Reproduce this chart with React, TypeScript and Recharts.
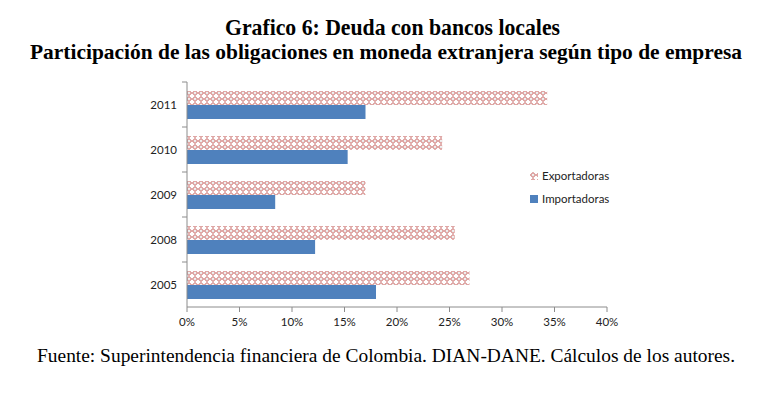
import { BarChart, Bar, XAxis, YAxis } from 'recharts'

const years = ['2011', '2010', '2009', '2008', '2005']
const exportadoras = [0.343, 0.243, 0.17, 0.255, 0.269]
const importadoras = [0.17, 0.153, 0.084, 0.122, 0.18]
const xTicks = [0, 0.05, 0.1, 0.15, 0.2, 0.25, 0.3, 0.35, 0.4]

const data = years.map((y, i) => ({ year: y, exp: exportadoras[i], imp: importadoras[i] }))

const axisColor = '#8c8c8c'
const tickFont = 'Lato, "Open Sans", sans-serif'

function YearTick(props: any) {
  const { x, y, payload } = props
  const half = 22.5
  return (
    <g>
      <line x1={x + 5} x2={x + 10} y1={y - half} y2={y - half} stroke={axisColor} />
      <text x={x} y={y} dy={4} textAnchor="end" fontSize={11.5} fill="#222" fontFamily={tickFont}>
        {payload.value}
      </text>
    </g>
  )
}

export default function App() {
  return (
    <div style={{ position: 'absolute', left: 0, top: 0, width: 770, height: 397, background: '#fff' }}>
      <svg width={770} height={397} style={{ position: 'absolute', left: 0, top: 0 }}>
        <g fontFamily='"Liberation Serif", "Times New Roman", serif' fill="#000">
          <text x={225} y={35} fontSize={23} fontWeight="bold" textLength={335} lengthAdjust="spacingAndGlyphs">
            Grafico 6: Deuda con bancos locales
          </text>
          <text x={30} y={59} fontSize={22} fontWeight="bold" textLength={712} lengthAdjust="spacingAndGlyphs">
            Participación de las obligaciones en moneda extranjera según tipo de empresa
          </text>
          <text x={37} y={362} fontSize={18.5} textLength={698} lengthAdjust="spacingAndGlyphs">
            Fuente: Superintendencia financiera de Colombia. DIAN-DANE. Cálculos de los autores.
          </text>
        </g>
      </svg>
      <div style={{ position: 'absolute', left: 0, top: 0 }}>
        <BarChart
          width={770}
          height={397}
          data={data}
          layout="vertical"
          margin={{ top: 82, right: 163, bottom: 60, left: 127 }}
          barCategoryGap="20%"
          barGap={0}
        >
          <defs>
            <pattern id="expPat" width={6} height={6} patternUnits="userSpaceOnUse">
              <rect width={6} height={6} fill="#fff" />
              <path d="M3 0.5 L5.5 3 L3 5.5 L0.5 3 Z" fill="none" stroke="#c0504d" strokeWidth={1} />
              <circle cx={3} cy={3} r={0.6} fill="#b0b0b0" />
            </pattern>
          </defs>
          <XAxis
            type="number"
            domain={[0, 0.4]}
            ticks={xTicks}
            height={30}
            stroke={axisColor}
            tickSize={5}
            tickMargin={6}
            tickFormatter={(v: number) => `${Math.round(v * 100)}%`}
            tick={{ fontSize: 11.5, fill: '#222', fontFamily: tickFont }}
          />
          <YAxis
            type="category"
            dataKey="year"
            width={60}
            stroke={axisColor}
            tickLine={false}
            tickSize={5}
            tickMargin={5}
            tick={<YearTick />}
          />
          <Bar dataKey="exp" name="Exportadoras" fill="url(#expPat)" isAnimationActive={false} />
          <Bar dataKey="imp" name="Importadoras" fill="#4f81bd" isAnimationActive={false} />
        </BarChart>
      </div>
      <div style={{ position: 'absolute', left: 530, top: 168, fontFamily: tickFont, fontSize: 11.5, color: '#222', lineHeight: '14px' }}>
        <div style={{ display: 'flex', alignItems: 'center', height: 16 }}>
          <svg width={8} height={8} style={{ marginRight: 4 }}>
            <rect width={8} height={8} fill="url(#expPat)" />
          </svg>
          Exportadoras
        </div>
        <div style={{ display: 'flex', alignItems: 'center', height: 16, marginTop: 7 }}>
          <svg width={8} height={8} style={{ marginRight: 4 }}>
            <rect width={8} height={8} fill="#4f81bd" />
          </svg>
          Importadoras
        </div>
      </div>
    </div>
  )
}
